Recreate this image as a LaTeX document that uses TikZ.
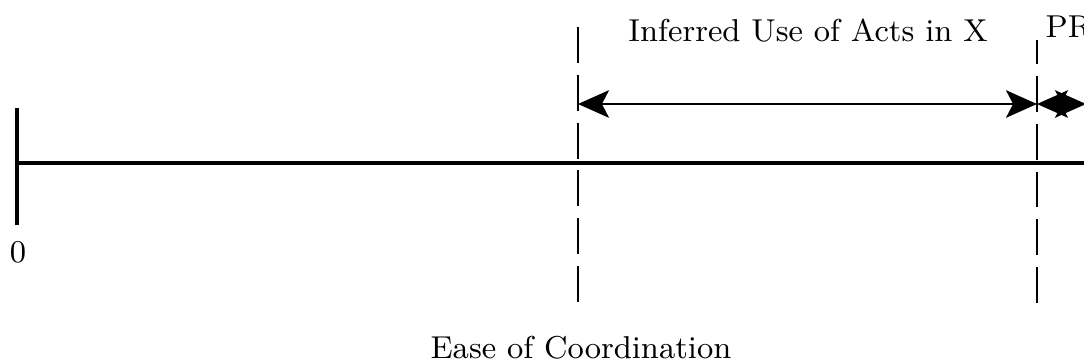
\documentclass[tikz,border=0pt]{standalone}
\usetikzlibrary{arrows.meta}
\tikzset{
  axis/.style={line width=1.1pt},
  guide/.style={line width=0.7pt, dash pattern=on 10.2pt off 3.4pt},
  span/.style={line width=0.7pt, {Stealth[length=8.8pt,width=7.8pt,inset=2pt]}-{Stealth[length=8.8pt,width=7.8pt,inset=2pt]}},
  lbl/.style={font=\fontsize{9}{11}\selectfont, inner sep=0pt}
}
\begin{document}
\begin{tikzpicture}[x=0.01cm,y=-0.01cm]
  \clip (0,0) rectangle (1084,363);
  % axis with the origin tick
  \coordinate (O) at (17,163);
  \coordinate (E) at (1095,163);
  \coordinate (T1) at (17,108);
  \coordinate (T2) at (17,225);
  \draw[axis] (O)--(E);
  \draw[axis] (T1)--(T2);
  % dashed guides
  \coordinate (G1a) at (578,27);
  \coordinate (G1b) at (578,304);
  \coordinate (G2a) at (1037,40);
  \coordinate (G2b) at (1037,307);
  \draw[guide] (G1a)--(G1b);
  \draw[guide,dash phase=3.4pt] (G2a)--(G2b);
  % spans
  \coordinate (A) at (578,104);
  \coordinate (B) at (1037,104);
  \coordinate (C) at (1086,104);
  \draw[span] (A)--(B);
  \draw[span] (B)--(C);
  % labels
  \node[lbl,anchor=base] (inf) at (808,41) {Inferred Use of Acts in X};
  \node[lbl,anchor=base west] (pr) at (1045,37) {PR};
  \node[lbl,anchor=base] (zero) at (18,262) {0};
  \node[lbl,anchor=base] (ease) at (581,358) {Ease of Coordination};
\end{tikzpicture}
\end{document}
